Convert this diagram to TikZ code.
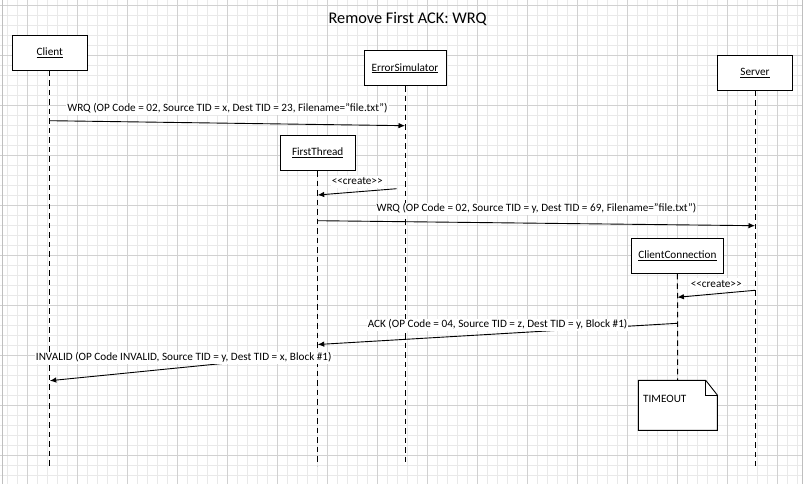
\documentclass[tikz,border=0pt]{standalone}
\usepackage{fontspec}
\setmainfont{Carlito}
\usepackage{tikz}
\usetikzlibrary{arrows.meta,positioning}

\begin{document}
\begin{tikzpicture}[x=1pt, y=-1pt, >={Latex[length=6.5pt,width=5.5pt]},
    gridminor/.style={gray!17, line width=0.9pt},
    gridmajor/.style={gray!36, line width=0.9pt},
    actor/.style={draw, line width=1pt, fill=white, minimum height=35pt, inner sep=2pt, font=\fontsize{11.2}{13}\selectfont},
    lifeline/.style={line width=1pt, dash pattern=on 5.5pt off 4pt},
    msgline/.style={->, line width=0.9pt},
    msg/.style={fill=white, inner sep=1pt, text height=7.7pt, text depth=2.6pt, font=\fontsize{11.2}{13}\selectfont},
    note/.style={minimum width=79pt, minimum height=50pt, inner sep=0pt, outer sep=0pt}]
    \useasboundingbox (0,0) rectangle (803,484);

    % Grid
    \foreach \x in {7.3,17.3,...,803} \draw [gridminor] (\x,0) -- (\x,484);
    \foreach \y in {5.3,15.3,...,484} \draw [gridminor] (0,\y) -- (803,\y);
    \foreach \x in {27.3,77.3,...,803} \draw [gridmajor] (\x,0) -- (\x,484);
    \foreach \y in {5.3,55.3,...,484} \draw [gridmajor] (0,\y) -- (803,\y);
    \draw [gray!50, line width=0.9pt] (2,0) -- (2,484);
    \draw [gray!50, line width=0.9pt] (802,0) -- (802,484);

    % Title
    \node [anchor=base, font=\fontsize{16.3}{19}\selectfont] (title) at (407.5,24) {Remove First ACK: WRQ};

    % Objects {client, errsim, firstthread, server, clientconn}
    \node [actor, minimum width=75pt]   (client)      at (49.8,52.8)  {\underline{Client}};
    \node [actor, minimum width=82pt]   (errsim)      at (405,68.2)   {\underline{ErrorSimulator}};
    \node [actor, minimum width=75pt]   (firstthread) at (317.7,153)  {\underline{FirstThread}};
    \node [actor, minimum width=75pt]   (server)      at (755,72.8)   {\underline{Server}};
    \node [actor, minimum width=92.7pt] (clientconn)  at (677.4,255.8){\underline{ClientConnection}};
    \node [note] (timeout) at (677.8,405.3) {};

    % Lifeline ends
    \coordinate (clientend)      at (49.8,465.5);
    \coordinate (errsimend)      at (405,465.5);
    \coordinate (firstthreadend) at (317.7,465.5);
    \coordinate (serverend)      at (755,465.5);

    % Lifelines
    \draw [lifeline] (client)      -- (clientend);
    \draw [lifeline] (errsim)      -- (errsimend);
    \draw [lifeline] (firstthread) -- (firstthreadend);
    \draw [lifeline] (server)      -- (serverend);
    \draw [lifeline] (clientconn)  -- (timeout);

    % Note
    \path [draw, fill=white, line width=0.9pt] (timeout.north west) -- ([xshift=-11.6pt]timeout.north east)
        -- ([yshift=-14.7pt]timeout.north east) -- (timeout.south east) -- (timeout.south west) -- cycle;
    \draw [line width=0.6pt] ([xshift=-11.6pt]timeout.north east) -- ([xshift=-11.6pt, yshift=-14.7pt]timeout.north east)
        -- ([yshift=-14.7pt]timeout.north east);
    \node [msg, fill=none, anchor=north west] (timeouttext) [below right=13pt and 3.7pt of timeout.north west] {TIMEOUT};

    % Message ends
    \coordinate (wrq1a)    at (49.8,120.7);
    \coordinate (wrq1b)    at (405,125.7);
    \coordinate (create1a) at (396.7,188.7);
    \coordinate (create1b) at (317.7,195);
    \coordinate (wrq2a)    at (317.7,220.7);
    \coordinate (wrq2b)    at (755,225.7);
    \coordinate (create2a) at (755,290.3);
    \coordinate (create2b) at (677.4,297.3);
    \coordinate (acka)     at (677.4,323.3);
    \coordinate (ackb)     at (317.7,344.5);
    \coordinate (invalida) at (317.7,354);
    \coordinate (invalidb) at (49.8,380.7);

    % Messages
    \path [msgline] (wrq1a)    edge node [msg, above=7.4pt] {WRQ (OP Code = 02, Source TID = x, Dest TID = 23, Filename="file.txt")} (wrq1b);
    \path [msgline] (create1a) edge node [msg, above=3.2pt] {<{}<create>{}>} (create1b);
    \path [msgline] (wrq2a)    edge node [msg, above=7.4pt] {WRQ (OP Code = 02, Source TID = y, Dest TID = 69, Filename="file.txt")} (wrq2b);
    \path [msgline] (create2a) edge node [msg, above=2.6pt] {<{}<create>{}>} (create2b);
    \path [msgline] (acka)     edge node [msg, above=2.4pt] {ACK (OP Code = 04, Source TID = z, Dest TID = y, Block \#1)} (ackb);
    \path [msgline] (invalida) edge node [msg, above=2.6pt] {INVALID (OP Code INVALID, Source TID = y, Dest TID = x, Block \#1)} (invalidb);

\end{tikzpicture}
\end{document}
